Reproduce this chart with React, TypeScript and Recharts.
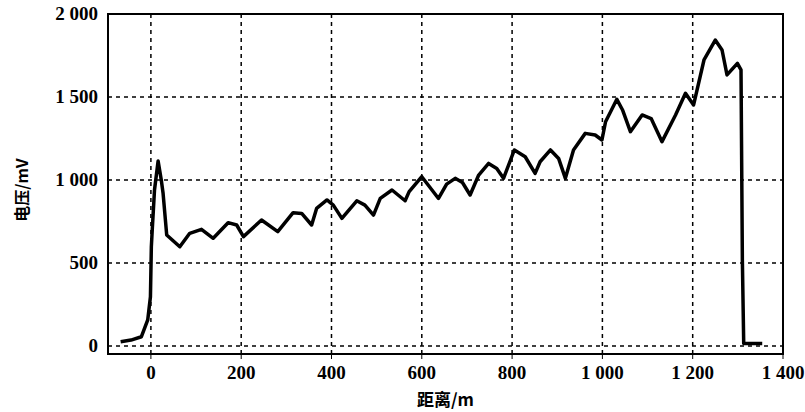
import { LineChart, Line, XAxis, YAxis, CartesianGrid, ReferenceArea } from "recharts";

// distance along the line (m)
const distance = [
  -67, -44, -21, -7, -1, 1, 3, 8, 16, 23, 27, 35, 64, 86, 112, 138, 171, 190, 205, 245,
  281, 315, 334, 356, 367, 390, 404, 423, 456, 474, 493, 508, 534, 563, 572, 600, 637, 655,
  674, 690, 707, 726, 748, 766, 781, 805, 829, 851, 862, 885, 903, 918, 936, 962, 984, 999,
  1007, 1032, 1045, 1062, 1088, 1108, 1132, 1162, 1184, 1202, 1225, 1250, 1265, 1276, 1299,
  1307, 1310, 1313, 1354,
];

// measured voltage (mV)
const voltage = [
  26, 36, 56, 157, 297, 598, 699, 940, 1115, 1000, 920, 669, 598, 679, 703, 649, 743, 729, 659, 759,
  689, 803, 799, 729, 829, 880, 849, 769, 875, 849, 789, 889, 940, 875, 930, 1020, 889, 975,
  1010, 985, 910, 1030, 1100, 1070, 1010, 1181, 1140, 1040, 1110, 1181, 1130, 1010, 1181, 1281, 1271, 1241,
  1351, 1486, 1420, 1291, 1392, 1370, 1231, 1392, 1522, 1452, 1723, 1843, 1783, 1633, 1703,
  1663, 518, 16, 16,
];

const xTicks = [0, 200, 400, 600, 800, 1000, 1200, 1400];
const yTicks = [0, 500, 1000, 1500, 2000];

const X_MIN = -95;
const X_MAX = 1400;
const Y_MIN = -48;
const Y_MAX = 2000;

const data = distance.map((d, i) => ({ d, v: voltage[i] }));

// "1 500" style thousands separator
const fmt = (v: number) =>
  v >= 1000 ? `${Math.floor(v / 1000)} ${String(v % 1000).padStart(3, "0")}` : `${v}`;

const serif = "Liberation Serif, DejaVu Serif, serif";
const cjkFont = "Noto Sans CJK SC, sans-serif";

function XTick({ x, y, payload }: any) {
  return (
    <text x={x} y={y + 18} textAnchor="middle" fontFamily={serif} fontWeight={700} fontSize={19} fill="#000">
      {fmt(payload.value)}
    </text>
  );
}

function YTick({ x, y, payload }: any) {
  return (
    <text x={x - 2} y={y + 6} textAnchor="end" fontFamily={serif} fontWeight={700} fontSize={19} fill="#000">
      {fmt(payload.value)}
    </text>
  );
}

export default function App() {
  return (
    <div style={{ position: "absolute", left: 0, top: 0, width: 805, height: 412, background: "#fff" }}>
      <LineChart
        width={805}
        height={412}
        data={data}
        margin={{ top: 14, right: 22, bottom: 0, left: 0 }}
      >
        <CartesianGrid stroke="#000" strokeDasharray="4 4" strokeWidth={1.5} />
        <XAxis
          type="number"
          dataKey="d"
          domain={[X_MIN, X_MAX]}
          ticks={xTicks}
          allowDataOverflow
          tick={<XTick />}
          tickLine={{ stroke: "#000" }}
          tickSize={5}
          axisLine={{ stroke: "#000", strokeWidth: 2 }}
          height={58}
          label={{
            value: "距离/m",
            position: "insideBottom",
            offset: 6,
            style: { fontFamily: cjkFont, fontWeight: 700, fontSize: 17, fill: "#000" },
          }}
        />
        <YAxis
          type="number"
          domain={[Y_MIN, Y_MAX]}
          ticks={yTicks}
          allowDataOverflow
          tick={<YTick />}
          tickLine={false}
          axisLine={{ stroke: "#000", strokeWidth: 2 }}
          width={108}
          label={{
            value: "电压/mV",
            angle: -90,
            position: "insideLeft",
            offset: 22,
            dy: 6,
            style: { fontFamily: cjkFont, fontWeight: 700, fontSize: 16, fill: "#000", textAnchor: "middle" },
          }}
        />
        <ReferenceArea
          x1={X_MIN}
          x2={X_MAX}
          y1={Y_MIN}
          y2={Y_MAX}
          fill="none"
          stroke="#000"
          strokeWidth={2}
        />
        <Line
          type="linear"
          dataKey="v"
          stroke="#000"
          strokeWidth={3.5}
          strokeLinejoin="round"
          dot={false}
          isAnimationActive={false}
        />
      </LineChart>
    </div>
  );
}
